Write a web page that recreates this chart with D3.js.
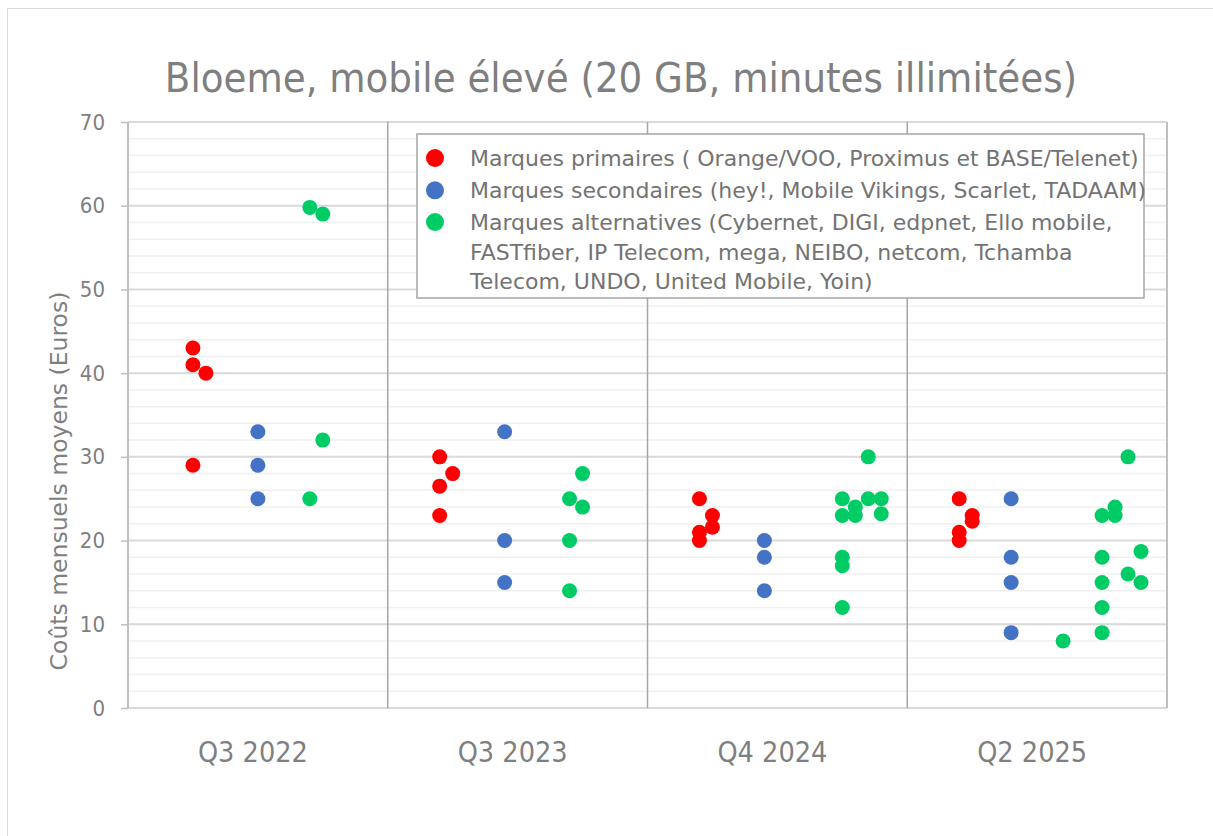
<!DOCTYPE html>
<html>
<head>
<meta charset="utf-8">
<script src="https://cdn.jsdelivr.net/npm/d3@7"></script>
<style>
  body { margin: 0; background: #fff; }
  text { font-family: "DejaVu Sans Condensed", "DejaVu Sans", sans-serif; }
</style>
</head>
<body>
<script>
var w = 1213;
var h = 836;

// categories (x domain is 0..4, one unit per quarter)
var quarters = ["Q3 2022", "Q3 2023", "Q4 2024", "Q2 2025"];
var yTicks = [0, 10, 20, 30, 40, 50, 60, 70];

// Marques primaires
var primX = [0.25, 0.25, 0.30, 0.25,  1.20, 1.25, 1.20, 1.20,  2.20, 2.25, 2.25, 2.20, 2.20,  3.20, 3.25, 3.25, 3.20, 3.20];
var primY = [43, 41, 40, 29,  30, 28, 26.5, 23,  25, 23, 21.6, 21, 20,  25, 23, 22.3, 21, 20];

// Marques secondaires
var secX = [0.50, 0.50, 0.50,  1.45, 1.45, 1.45,  2.45, 2.45, 2.45,  3.40, 3.40, 3.40, 3.40];
var secY = [33, 29, 25,  33, 20, 15,  20, 18, 14,  25, 18, 15, 9];

// Marques alternatives
var altX = [0.70, 0.75, 0.75, 0.70,
            1.75, 1.70, 1.75, 1.70, 1.70,
            2.85, 2.75, 2.85, 2.90, 2.80, 2.75, 2.80, 2.90, 2.75, 2.75, 2.75,
            3.85, 3.80, 3.75, 3.80, 3.90, 3.75, 3.85, 3.90, 3.75, 3.75, 3.75, 3.60];
var altY = [59.8, 59, 32, 25,
            28, 25, 24, 20, 14,
            30, 25, 25, 25, 24, 23, 23, 23.2, 18, 17, 12,
            30, 24, 23, 23, 18.7, 18, 16, 15, 15, 12, 9, 8];

var seriesNames = ["Marques primaires ( Orange/VOO, Proximus et BASE/Telenet)",
                   "Marques secondaires (hey!, Mobile Vikings, Scarlet, TADAAM)",
                   "Marques alternatives (Cybernet, DIGI, edpnet, Ello mobile,\nFASTfiber, IP Telecom, mega, NEIBO, netcom, Tchamba\nTelecom, UNDO, United Mobile, Yoin)"];
var seriesColors = ["#ff0000", "#4472c4", "#00cc66"];

var series = [
  d3.zip(primX, primY),
  d3.zip(secX, secY),
  d3.zip(altX, altY)
];

var svg = d3.select("body")
        .append("svg")
        .attr("width", w)
        .attr("height", h);

// chart area border (only left and top are in frame)
svg.append("rect")
        .attr("x", 7.5).attr("y", 8.5)
        .attr("width", w + 20).attr("height", h + 20)
        .attr("fill", "#fff")
        .attr("stroke", "#d9d9d9");

var x = d3.scaleLinear().domain([0, 4]).range([128, 1167]);
var y = d3.scaleLinear().domain([0, 70]).range([708, 122]);

// minor gridlines every 2
svg.append("g")
        .selectAll("line")
        .data(d3.range(0, 71, 2).filter(function (d) { return d % 10 !== 0; }))
        .enter()
        .append("line")
        .attr("x1", x(0)).attr("x2", x(4))
        .attr("y1", function (d) { return y(d); })
        .attr("y2", function (d) { return y(d); })
        .attr("stroke", "#f0f0f0")
        .attr("stroke-width", 1.5);

// major gridlines + y axis
var yAxis = d3.axisLeft(y).tickValues(yTicks).tickSize(7).tickPadding(16);
var gy = svg.append("g")
        .attr("transform", "translate(" + x(0) + ",0)")
        .call(yAxis);
gy.select(".domain").remove();
gy.selectAll(".tick line").attr("stroke", "#bfbfbf").attr("stroke-width", 1.5);
gy.selectAll(".tick text")
        .attr("fill", "#7f7f7f")
        .style("font-size", "22px");

svg.append("g")
        .selectAll("line")
        .data(yTicks)
        .enter()
        .append("line")
        .attr("x1", x(0)).attr("x2", x(4))
        .attr("y1", function (d) { return y(d); })
        .attr("y2", function (d) { return y(d); })
        .attr("stroke", "#d9d9d9")
        .attr("stroke-width", 2);

// quarter dividers
svg.append("g")
        .selectAll("line")
        .data([1, 2, 3])
        .enter()
        .append("line")
        .attr("x1", function (d) { return x(d); })
        .attr("x2", function (d) { return x(d); })
        .attr("y1", y(70)).attr("y2", y(0))
        .attr("stroke", "#a6a6a6")
        .attr("stroke-width", 1.5);

// left axis line and right border
svg.append("line")
        .attr("x1", x(0)).attr("x2", x(0))
        .attr("y1", y(70)).attr("y2", y(0))
        .attr("stroke", "#bfbfbf").attr("stroke-width", 2);
svg.append("line")
        .attr("x1", x(4)).attr("x2", x(4))
        .attr("y1", y(70)).attr("y2", y(0))
        .attr("stroke", "#bfbfbf").attr("stroke-width", 2);

// x labels
svg.append("g")
        .selectAll("text")
        .data(quarters)
        .enter()
        .append("text")
        .attr("x", function (d, i) { return x(i + 0.5) - 5; })
        .attr("y", 762)
        .attr("text-anchor", "middle")
        .attr("fill", "#7f7f7f")
        .style("font-size", "28.5px")
        .text(function (d) { return d; });

// points
series.forEach(function (pts, si) {
    svg.append("g")
            .selectAll("circle")
            .data(pts)
            .enter()
            .append("circle")
            .attr("cx", function (d) { return x(d[0]); })
            .attr("cy", function (d) { return y(d[1]); })
            .attr("r", 7.5)
            .style("fill", seriesColors[si]);
});

// title
svg.append("text")
        .attr("x", 621)
        .attr("y", 92)
        .attr("text-anchor", "middle")
        .attr("fill", "#7f7f7f")
        .style("font-size", "41.4px")
        .text("Bloeme, mobile élevé (20 GB, minutes illimitées)");

// y axis title
svg.append("text")
        .attr("transform", "translate(67,481) rotate(-90)")
        .attr("text-anchor", "middle")
        .attr("fill", "#7f7f7f")
        .style("font-family", "'DejaVu Sans', sans-serif")
        .style("font-size", "23.5px")
        .text("Coûts mensuels moyens (Euros)");

// legend
var legend = svg.append("g");
legend.append("rect")
        .attr("x", 417).attr("y", 134)
        .attr("width", 727).attr("height", 164)
        .attr("fill", "#fff")
        .attr("stroke", "#a6a6a6")
        .attr("stroke-width", 1.5);

var entryY = [166, 198.3, 230];
seriesNames.forEach(function (name, i) {
    legend.append("circle")
            .attr("cx", 435)
            .attr("cy", entryY[i] - 8)
            .attr("r", 9)
            .style("fill", seriesColors[i]);
    name.split("\n").forEach(function (line, j) {
        legend.append("text")
                .attr("x", 470)
                .attr("y", entryY[i] + j * 29.7)
                .attr("fill", "#737373")
                .style("font-family", "'DejaVu Sans', sans-serif")
                .style("font-size", "22px")
                .text(line);
    });
});
</script>
</body>
</html>
